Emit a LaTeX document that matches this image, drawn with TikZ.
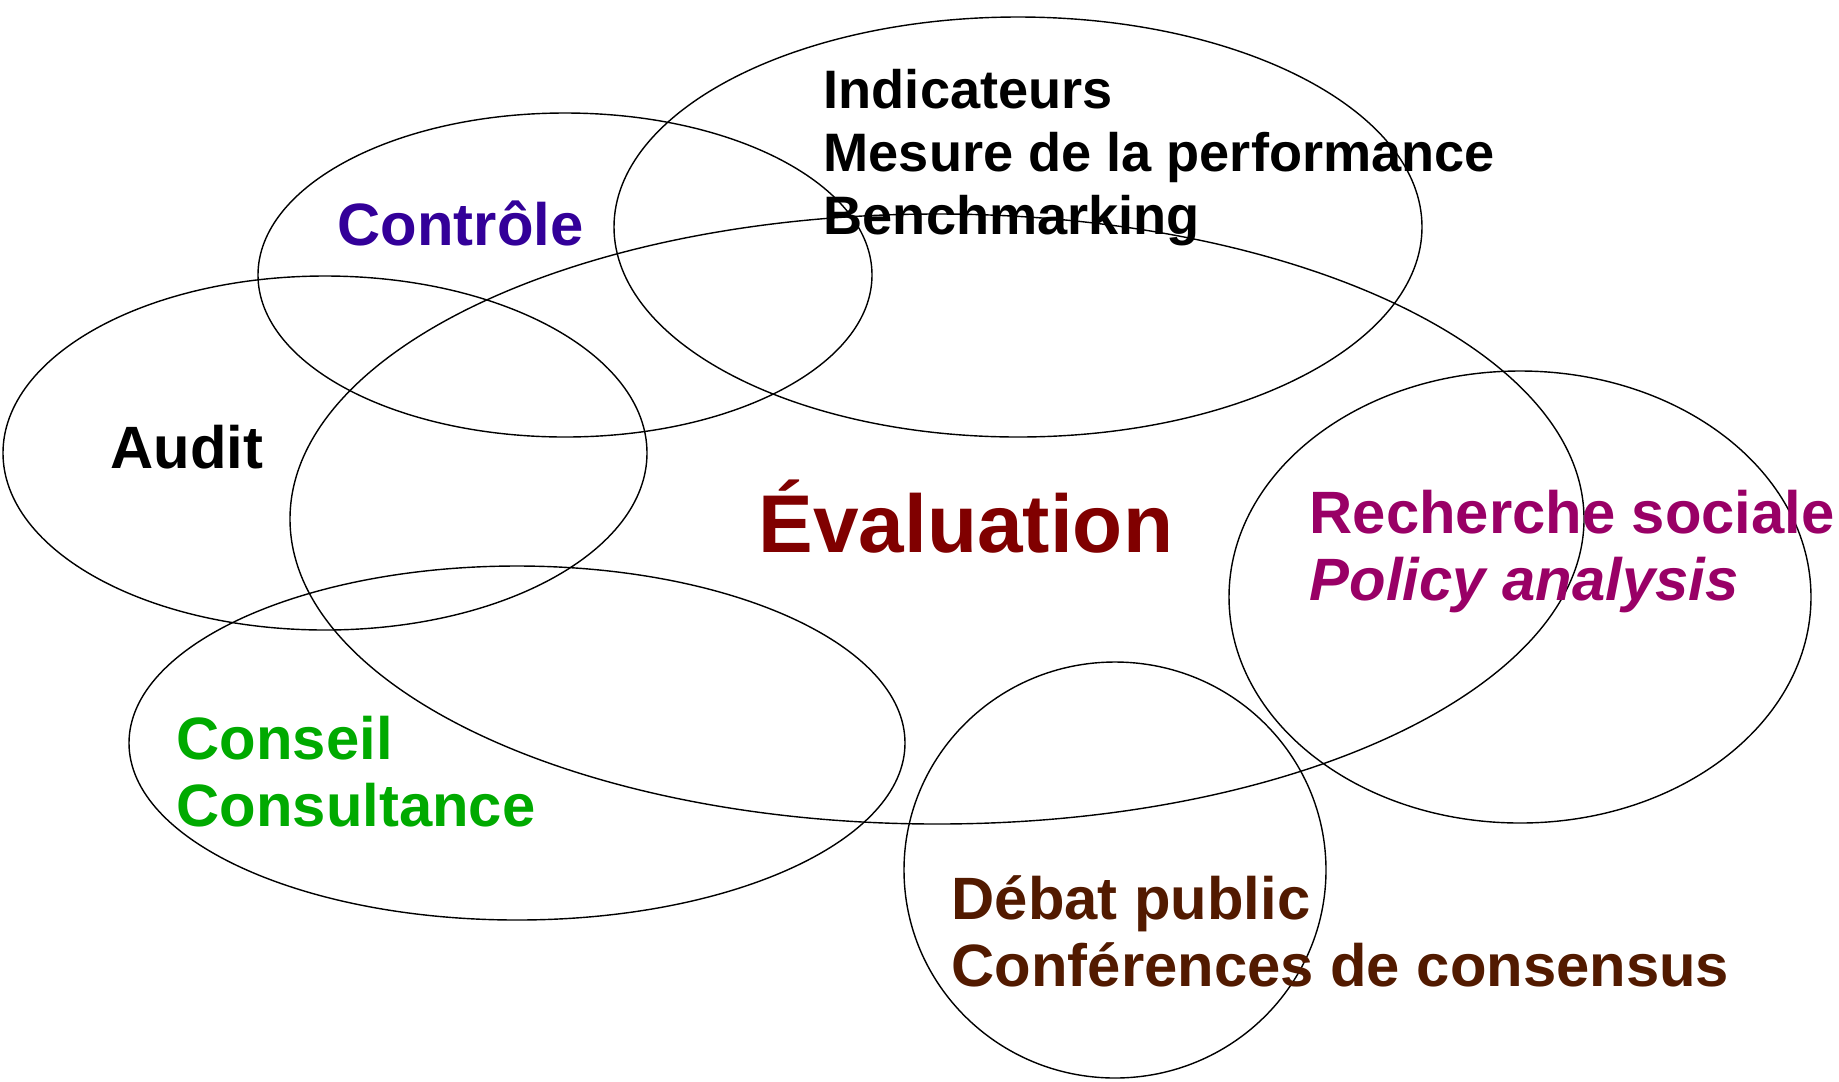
\documentclass[tikz,border=0pt]{standalone}
\usepackage{fontspec}
\setmainfont{Liberation Sans}
\usepackage{xcolor}
\usepackage{tikz}
\definecolor{ctrl_blue}{RGB}{51,0,153}
\definecolor{eval_red}{RGB}{128,0,0}
\definecolor{rech_purple}{RGB}{153,0,102}
\definecolor{cons_green}{RGB}{0,170,0}
\definecolor{debat_brown}{RGB}{82,26,0}
\tikzset{
    ring/.style = {draw=black, thin},
    tag/.style = {align=left, inner sep=0pt, anchor=base west, font=\bfseries\fontsize{17}{19}\selectfont},
    small_tag/.style = {tag, font=\bfseries\fontsize{15.4}{17.8}\selectfont},
    big_tag/.style = {tag, font=\bfseries\fontsize{23.3}{28}\selectfont}
}

\begin{document}
\begin{tikzpicture}[x=0.01cm, y=-0.01cm]
    \useasboundingbox [fill=white] (0,0) rectangle (1839,1081);
    % fields around evaluation
    \draw [ring] (565,275) ellipse (307 and 162);    % controle
    \draw [ring] (1018,227) ellipse (404 and 210);   % indicateurs
    \draw [ring] (325,453) ellipse (322 and 177);    % audit
    \draw [ring] (937,519) ellipse (647 and 305);    % evaluation
    \draw [ring] (1520,597) ellipse (291 and 226);   % recherche
    \draw [ring] (517,743) ellipse (388 and 177);    % conseil
    \draw [ring] (1115,870) ellipse (211 and 208);   % debat
    % labels (base = baseline of the last line)
    \node (controle) [tag, ctrl_blue] at (337,245) {Contr\^ole};
    \node (audit) [tag, black] at (110,468) {Audit};
    \node (indic) [small_tag, black] at (823,234) {Indicateurs\\Mesure de la performance\\Benchmarking};
    \node (eval) [big_tag, eval_red] at (758,552) {\'Evaluation};
    \node (recherche) [tag, rech_purple] at (1309,600) {Recherche sociale\\\itshape Policy analysis};
    \node (conseil) [tag, cons_green] at (176,826) {Conseil\\Consultance};
    \node (debat) [tag, debat_brown] at (951,986) {D\'ebat public\\Conf\'erences de consensus};
\end{tikzpicture}
\end{document}
